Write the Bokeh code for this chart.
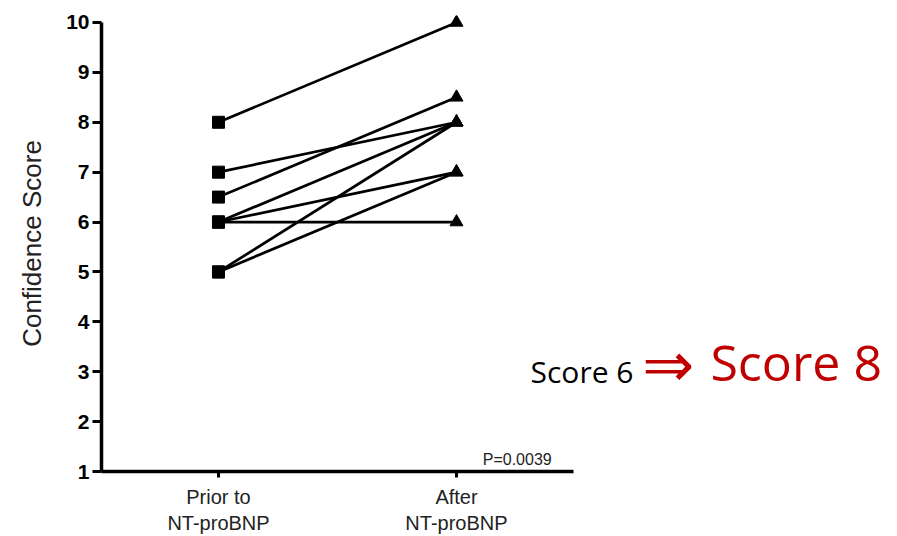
from bokeh.plotting import figure
from bokeh.models import Range1d, Label, FixedTicker
from bokeh.embed import file_html
from bokeh.resources import INLINE

# ---- data ----
categories = ["Prior to\nNT-proBNP", "After\nNT-proBNP"]
prior_scores = [8, 7, 6.5, 6, 6, 6, 5, 5]
after_scores = [10, 8, 8.5, 8, 7, 6, 8, 7]
y_ticks = [1, 2, 3, 4, 5, 6, 7, 8, 9, 10]
p_value_text = "P=0.0039"
before_text = "Score 6"
arrow_text = "\u21d2"
after_text = "Score 8"

cat_x = list(range(len(categories)))

p = figure(width=897, height=536,
           x_range=Range1d(-0.4916, 2.853), y_range=Range1d(1, 10.14),
           output_backend="svg", toolbar_location=None,
           min_border_left=101, min_border_right=0, min_border_top=15, min_border_bottom=64)
p.outline_line_color = None
p.xgrid.visible = False
p.ygrid.visible = False
p.background_fill_color = "white"

# lines
xs = [[cat_x[0], cat_x[1]] for _ in prior_scores]
ys = [[a, b] for a, b in zip(prior_scores, after_scores)]
p.multi_line(xs, ys, line_color="black", line_width=2.7)
p.scatter([cat_x[0]] * len(prior_scores), prior_scores, marker="square", size=12,
          fill_color="black", line_color="black")
p.scatter([cat_x[1]] * len(after_scores), after_scores, marker="triangle", size=13,
          fill_color="black", line_color="black")

# y axis
ya = p.yaxis[0]
ya.ticker = FixedTicker(ticks=y_ticks)
ya.bounds = (1, 10)
ya.axis_line_width = 3.5
ya.axis_line_color = "black"
ya.major_tick_line_width = 3
ya.major_tick_out = 9
ya.major_tick_in = 0
ya.minor_tick_line_color = None
ya.major_label_text_font = "Liberation Sans"
ya.major_label_text_font_style = "bold"
ya.major_label_text_font_size = "21px"
ya.major_label_text_color = "black"
ya.major_label_standoff = 3
ya.axis_label = "Confidence Score"
ya.axis_label_text_font = "Liberation Sans"
ya.axis_label_text_font_style = "normal"
ya.axis_label_text_font_size = "26px"
ya.axis_label_text_color = "#222222"
ya.axis_label_standoff = 16

# x axis
xa = p.xaxis[0]
xa.ticker = FixedTicker(ticks=cat_x)
xa.bounds = (-0.4916, 1.4916)
xa.axis_line_width = 3.5
xa.axis_line_color = "black"
xa.major_tick_line_width = 3
xa.major_tick_out = 6
xa.major_tick_in = 0
xa.minor_tick_line_color = None
xa.major_label_overrides = {xi: cat for xi, cat in zip(cat_x, categories)}
xa.major_label_text_font = "Liberation Sans"
xa.major_label_text_font_size = "20px"
xa.major_label_text_color = "#222222"
xa.major_label_text_line_height = 1.2
xa.major_label_standoff = 8

p.add_layout(Label(x=1.40, y=1.24, text=p_value_text, text_align="right",
                   text_baseline="alphabetic", text_font="Liberation Sans",
                   text_font_size="16px", text_color="#222222"))

p.add_layout(Label(x=1.311, y=3.01, text=before_text, text_align="left",
                   text_baseline="alphabetic", text_font="Open Sans",
                   text_font_size="30px", text_color="black"))
p.add_layout(Label(x=1.78, y=3.15, text=arrow_text, text_align="left",
                   text_baseline="alphabetic", text_font="DejaVu Sans",
                   text_font_size="62px", text_color="#C00000"))
p.add_layout(Label(x=2.067, y=3.19, text=after_text, text_align="left",
                   text_baseline="alphabetic", text_font="Open Sans",
                   text_font_size="50px", text_color="#C00000"))

open("out.html", "w").write(file_html(p, INLINE))
